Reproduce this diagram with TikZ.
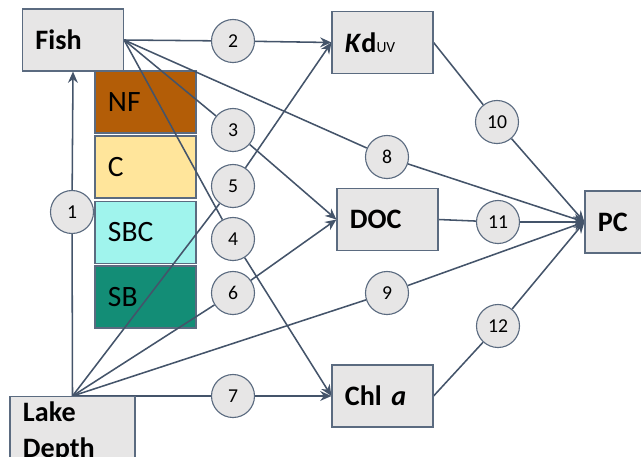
\documentclass[tikz,border=0pt]{standalone}
\usepackage{fontspec}
\setmainfont{Carlito}
\usetikzlibrary{arrows.meta}
\definecolor{slate}{HTML}{44546A}
\definecolor{edge}{HTML}{5B6B80}
\definecolor{boxgray}{HTML}{E7E6E6}
\definecolor{nfcol}{HTML}{B35D07}
\definecolor{ccol}{HTML}{FFE59B}
\definecolor{sbccol}{HTML}{A0F4ED}
\definecolor{sbcol}{HTML}{138D76}
\pgfdeclarelayer{back}
\pgfdeclarelayer{lines}
\pgfsetlayers{back,lines,main}
\begin{document}
\begin{tikzpicture}[x=0.025cm,y=-0.025cm,
    box/.style={draw=edge,fill=boxgray,line width=0.8pt,minimum width=2.525cm,minimum height=1.55cm,
      inner xsep=0.325cm,text width=1.875cm,align=left,font=\fontsize{20}{24}\selectfont\bfseries},
    group/.style={box,fill=#1,font=\fontsize{21}{25}\selectfont},
    num/.style={circle,draw=edge,fill=boxgray,line width=0.8pt,minimum size=1.075cm,inner sep=0pt,
      font=\fontsize{14}{16}\selectfont},
    arr/.style={draw=slate,line width=1.1pt,-{Stealth[length=8pt,width=7pt]}}]
  \useasboundingbox (0,0) rectangle (641,456);
  % boxes
  \node[box] (fish) at (73,40) {Fish};
  \node[box] (kd) at (382.5,42.5) {\textit{K}d{\fontsize{11}{13}\selectfont\mdseries UV}};
  \node[box] (doc) at (387.5,219.5) {DOC};
  \node[box] (pc) at (635.5,222) {PC};
  \node[box] (chl) at (382.5,396) {Chl \textit{a}};
  \node[box,anchor=north,minimum width=3.125cm,text width=2.475cm,inner ysep=4pt,
    font=\fontsize{20}{25.5}\selectfont\bfseries] (lake) at (72.5,396) {Lake\\Depth};
  \begin{pgfonlayer}{back}
    \node[group=nfcol] (nf) at (145.5,102) {NF};
    \node[group=ccol] (c) at (145.5,167) {C};
    \node[group=sbccol] (sbc) at (145.5,232.5) {SBC};
    \node[group=sbcol] (sb) at (145.5,297) {SB};
  \end{pgfonlayer}
  % numbered paths
  \node[num] (n1) at (72,212) {1};
  \node[num] (n2) at (233,41) {2};
  \node[num] (n3) at (233,130) {3};
  \node[num] (n4) at (233,239) {4};
  \node[num] (n5) at (233,186) {5};
  \node[num] (n6) at (233,293) {6};
  \node[num] (n7) at (233,396) {7};
  \node[num] (n8) at (387,157) {8};
  \node[num] (n9) at (387,293) {9};
  \node[num] (n10) at (497,122) {10};
  \node[num] (n11) at (498,222) {11};
  \node[num] (n12) at (498,326) {12};
  \begin{pgfonlayer}{lines}
    \draw[arr] (lake.north) -- (n1) -- (fish.south);
    \foreach \t/\c in {kd/n2,doc/n3,chl/n4,pc/n8}
      \draw[arr] (fish.east) -- (\c) -- (\t.west);
    \foreach \t/\c in {kd/n5,doc/n6,chl/n7,pc/n9}
      \draw[arr] (lake.north) -- (\c) -- (\t.west);
    \foreach \s/\c in {kd/n10,doc/n11,chl/n12}
      \draw[arr] (\s.east) -- (\c) -- (pc.west);
  \end{pgfonlayer}
\end{tikzpicture}
\end{document}
